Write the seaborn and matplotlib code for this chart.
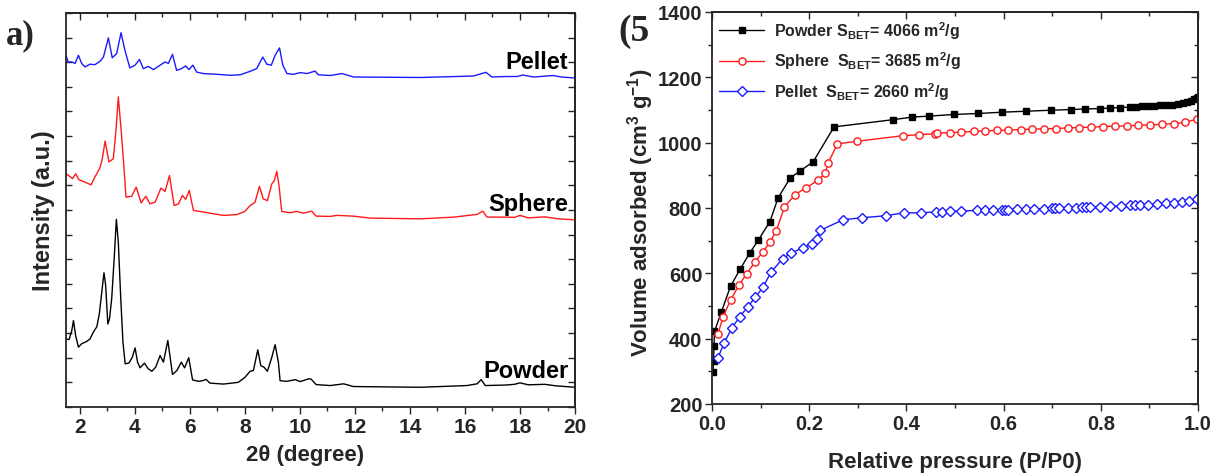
import numpy as np
import pandas as pd
import matplotlib
matplotlib.use('Agg')
import matplotlib.pyplot as plt
from matplotlib.ticker import MultipleLocator, NullFormatter
import seaborn as sns

sns.set_style('ticks')
FONT = ['Liberation Sans Narrow', 'Liberation Sans', 'DejaVu Sans']
plt.rcParams['font.family'] = FONT
plt.rcParams['font.weight'] = 'bold'
plt.rcParams['mathtext.default'] = 'regular'

# ---- XRD patterns (2theta, intensity a.u.) ----
pellet_pts = [(1.50, 14.28), (1.58, 14.01), (1.71, 14.01), (1.83, 13.95), (1.95, 14.28), (2.07, 13.95),
              (2.19, 13.81), (2.37, 13.92), (2.55, 13.90), (2.74, 14.04), (2.86, 14.21), (3.04, 14.99),
              (3.18, 14.18), (3.34, 14.35), (3.50, 15.20), (3.64, 14.49), (3.82, 13.77), (4.01, 13.88),
              (4.17, 14.11), (4.31, 13.74), (4.49, 13.83), (4.68, 13.70), (4.92, 13.88), (5.10, 14.01),
              (5.22, 13.95), (5.37, 14.32), (5.52, 13.67), (5.70, 13.74), (5.85, 13.85), (5.97, 13.70),
              (6.11, 13.88), (6.25, 13.60), (6.49, 13.54), (6.98, 13.51), (7.46, 13.47), (7.83, 13.49),
              (8.19, 13.63), (8.43, 13.74), (8.65, 14.21), (8.80, 13.92), (8.96, 13.88), (9.10, 14.28),
              (9.26, 14.58), (9.38, 13.88), (9.53, 13.54), (9.77, 13.51), (10.01, 13.58), (10.26, 13.54),
              (10.55, 13.64), (10.67, 13.49), (11.10, 13.46), (11.53, 13.54), (11.95, 13.40), (14.38, 13.38),
              (16.31, 13.44), (16.76, 13.59), (16.98, 13.40), (17.46, 13.42), (17.9, 13.42), (18.1, 13.48),
              (18.5, 13.40), (19.2, 13.46), (19.5, 13.40), (20.0, 13.36)]

sphere_pts = [(1.50, 9.47), (1.645, 9.36), (1.73, 9.27), (1.85, 9.47), (1.97, 9.23), (2.19, 9.13),
              (2.41, 9.02), (2.55, 9.34), (2.73, 9.70), (2.82, 10.08), (2.92, 10.80), (3.06, 9.95),
              (3.22, 10.08), (3.32, 11.30), (3.40, 12.59), (3.50, 11.30), (3.60, 9.81), (3.68, 8.52),
              (3.89, 8.56), (4.05, 8.93), (4.23, 8.29), (4.40, 8.56), (4.55, 8.25), (4.74, 8.32),
              (4.95, 8.89), (5.10, 8.75), (5.26, 9.40), (5.43, 8.18), (5.59, 8.25), (5.73, 8.59),
              (5.85, 8.43), (5.98, 8.79), (6.13, 7.98), (6.37, 7.94), (6.73, 7.87), (7.22, 7.78),
              (7.70, 7.81), (8.00, 7.94), (8.19, 8.18), (8.37, 8.31), (8.53, 8.96), (8.67, 8.45),
              (8.82, 8.38), (8.98, 9.06), (9.07, 9.19), (9.16, 9.57), (9.24, 9.00), (9.34, 7.94),
              (9.64, 7.89), (9.89, 7.94), (10.13, 7.87), (10.43, 7.95), (10.59, 7.75), (11.10, 7.74),
              (11.35, 7.78), (11.95, 7.75), (12.56, 7.67), (14.38, 7.64), (15.59, 7.71), (16.44, 7.82),
              (16.65, 7.95), (16.80, 7.71), (17.46, 7.71), (17.8, 7.70), (18.0, 7.78), (18.3, 7.68),
              (18.9, 7.72), (19.4, 7.64), (20.0, 7.60)]

powder_pts = [(1.50, 2.76), (1.61, 2.74), (1.71, 3.10), (1.77, 3.51), (1.85, 2.90), (1.95, 2.43),
              (2.07, 2.57), (2.25, 2.66), (2.37, 2.76), (2.49, 3.03), (2.62, 3.26), (2.71, 3.78),
              (2.80, 4.66), (2.88, 5.45), (2.94, 4.94), (3.02, 3.37), (3.08, 3.58), (3.16, 4.39),
              (3.25, 6.02), (3.33, 7.62), (3.40, 6.70), (3.49, 4.39), (3.57, 2.63), (3.65, 1.75),
              (3.79, 1.79), (3.91, 2.02), (4.01, 2.40), (4.10, 1.82), (4.19, 1.59), (4.35, 1.78),
              (4.49, 1.55), (4.62, 1.45), (4.76, 1.62), (4.92, 2.09), (5.04, 1.82), (5.20, 2.70),
              (5.37, 1.32), (5.53, 1.48), (5.69, 1.82), (5.81, 1.59), (5.96, 2.00), (6.10, 1.10),
              (6.32, 1.04), (6.47, 1.07), (6.59, 1.12), (6.73, 0.97), (7.22, 0.93), (7.76, 1.00),
              (8.00, 1.20), (8.19, 1.45), (8.31, 1.48), (8.47, 2.32), (8.58, 1.68), (8.70, 1.61),
              (8.82, 1.45), (8.98, 2.02), (9.10, 2.53), (9.22, 1.81), (9.28, 1.07), (9.52, 1.04),
              (9.83, 1.11), (10.01, 1.03), (10.31, 1.14), (10.40, 1.14), (10.59, 0.91), (11.10, 0.87),
              (11.59, 0.94), (11.95, 0.83), (14.38, 0.80), (16.07, 0.87), (16.44, 0.94), (16.59, 1.11),
              (16.74, 0.87), (17.46, 0.89), (17.8, 0.92), (18.0, 0.98), (18.3, 0.90), (18.9, 0.92),
              (19.3, 0.86), (20.0, 0.80)]

xrd_names = ['Pellet', 'Sphere', 'Powder']
xrd_colors = ['#1a1aff', '#ff1a1a', 'black']

# ---- N2 isotherms (P/P0, volume adsorbed) ----
powder_p = [0.002, 0.003, 0.004, 0.005, 0.019, 0.038, 0.058, 0.078, 0.095, 0.119, 0.136, 0.161, 0.180,
            0.208, 0.251, 0.372, 0.412, 0.447, 0.497, 0.548, 0.597, 0.647, 0.697, 0.738, 0.768, 0.798,
            0.819, 0.839, 0.861, 0.873, 0.885, 0.897, 0.909, 0.922, 0.934, 0.946, 0.958, 0.970, 0.978,
            0.986, 0.992, 0.997, 1.0]
powder_v = [299, 332, 376, 422, 481, 560, 613, 663, 701, 758, 831, 892, 912,
            941, 1048, 1070, 1078, 1081, 1086, 1089, 1093, 1096, 1099, 1101, 1103, 1104,
            1106, 1107, 1109, 1110, 1111, 1112, 1113, 1114, 1115, 1116, 1118, 1120, 1123,
            1128, 1133, 1137, 1140]

sphere_p = [0.012, 0.023, 0.038, 0.056, 0.071, 0.088, 0.104, 0.119, 0.132, 0.149, 0.171, 0.193, 0.218,
            0.233, 0.239, 0.258, 0.299, 0.392, 0.426, 0.458, 0.463, 0.489, 0.513, 0.538, 0.562, 0.586,
            0.610, 0.635, 0.659, 0.683, 0.707, 0.732, 0.756, 0.780, 0.804, 0.829, 0.853, 0.877, 0.901,
            0.926, 0.950, 0.974, 0.998]
sphere_v = [414, 467, 518, 565, 598, 634, 664, 695, 729, 803, 841, 861, 885,
            906, 938, 996, 1004, 1021, 1024, 1027, 1029, 1030, 1032, 1034, 1036, 1037,
            1038, 1040, 1041, 1042, 1043, 1045, 1046, 1047, 1049, 1050, 1051, 1053, 1054,
            1056, 1058, 1062, 1072]

pellet_p = [0.012, 0.025, 0.041, 0.057, 0.074, 0.089, 0.105, 0.121, 0.145, 0.163, 0.187, 0.206, 0.215,
            0.222, 0.270, 0.309, 0.357, 0.394, 0.430, 0.461, 0.473, 0.489, 0.513, 0.546, 0.562, 0.578,
            0.596, 0.602, 0.610, 0.627, 0.647, 0.663, 0.683, 0.699, 0.706, 0.714, 0.732, 0.748, 0.762,
            0.770, 0.778, 0.798, 0.819, 0.841, 0.861, 0.871, 0.881, 0.897, 0.916, 0.934, 0.950, 0.966,
            0.982, 0.998]
pellet_v = [341, 387, 433, 467, 498, 527, 557, 603, 644, 662, 678, 691, 705,
            731, 764, 770, 776, 785, 785, 788, 788, 790, 790, 793, 793, 794,
            795, 795, 795, 796, 797, 797, 798, 799, 799, 800, 801, 801, 802,
            802, 803, 804, 805, 806, 808, 808, 809, 810, 812, 814, 816, 819,
            822, 827]

iso_labels = ['Powder S$_{BET}$= 4066 m$^2$/g',
              'Sphere  S$_{BET}$= 3685 m$^2$/g',
              'Pellet  S$_{BET}$= 2660 m$^2$/g']

fig = plt.figure(figsize=(12.18, 4.77), dpi=100)
ax1 = fig.add_axes([0.0542, 0.1447, 0.4179, 0.826])
ax2 = fig.add_axes([0.5846, 0.151, 0.399, 0.822])


def mirror_ticks(ax, xmaj, xmin, ymaj, ymin):
    """Origin style: bottom/left ticks as given, top/right ticks inward."""
    top = ax.secondary_xaxis('top')
    right = ax.secondary_yaxis('right')
    top.xaxis.set_major_locator(MultipleLocator(xmaj))
    top.xaxis.set_minor_locator(MultipleLocator(xmin))
    right.yaxis.set_major_locator(MultipleLocator(ymaj))
    right.yaxis.set_minor_locator(MultipleLocator(ymin))
    top.tick_params(which='both', direction='in', labeltop=False, width=1.0)
    right.tick_params(which='both', direction='in', labelright=False, width=1.0)
    top.tick_params(which='major', length=5)
    top.tick_params(which='minor', length=3)
    right.tick_params(which='major', length=5)
    right.tick_params(which='minor', length=3)
    top.spines['top'].set_linewidth(1.3)
    right.spines['right'].set_linewidth(1.3)
    return top, right


# ---------------- a) XRD ----------------
for pts, name, col in zip([pellet_pts, sphere_pts, powder_pts], xrd_names, xrd_colors):
    arr = np.array(pts)
    sns.lineplot(x=arr[:, 0], y=arr[:, 1], ax=ax1, color=col, lw=1.0,
                 sort=False, estimator=None)
    ax1.text(19.75, arr[-1, 1] + 0.2, name, ha='right', va='bottom',
             fontsize=17, fontweight='bold', color='black')

ax1.set_xlim(1.5, 20)
ax1.set_ylim(0, 16)
ax1.xaxis.set_major_locator(MultipleLocator(2))
ax1.xaxis.set_minor_locator(MultipleLocator(1))
ax1.yaxis.set_major_locator(MultipleLocator(1))
ax1.yaxis.set_major_formatter(NullFormatter())
ax1.tick_params(axis='x', which='major', direction='out', length=5, width=1.0, labelsize=15, pad=2)
ax1.tick_params(axis='x', which='minor', direction='out', length=3, width=1.0)
ax1.tick_params(axis='y', which='major', direction='in', length=4, width=1.0)
for s in ax1.spines.values():
    s.set_linewidth(1.3)
mirror_ticks(ax1, 2, 1, 1, 1)
ax1.set_xlabel('2θ (degree)', fontsize=16, fontweight='bold')
ax1.set_ylabel('Intensity (a.u.)', fontsize=17, fontweight='bold')
ax1.xaxis.set_label_coords(0.47, -0.095)
ax1.yaxis.set_label_coords(-0.022, 0.5)
fig.text(0.005, 0.925, 'a)', fontsize=25, fontweight='bold', family='Liberation Serif',
         ha='left', va='center')

# ---------------- b) isotherms ----------------
iso_data = [(powder_p, powder_v, 'black', 's', 'black', 5.0),
            (sphere_p, sphere_v, '#ff1a1a', 'o', 'white', 5.2),
            (pellet_p, pellet_v, '#1a1aff', 'D', 'white', 4.8)]
for (p, v, col, mk, mfc, ms), lab in zip(iso_data, iso_labels):
    sns.lineplot(x=p, y=v, ax=ax2, color=col, lw=1.0, marker=mk, markersize=ms,
                 markerfacecolor=mfc, markeredgecolor=col, markeredgewidth=1.0,
                 sort=False, estimator=None, label=lab)

ax2.set_xlim(0, 1.0)
ax2.set_ylim(200, 1400)
ax2.xaxis.set_major_locator(MultipleLocator(0.2))
ax2.xaxis.set_minor_locator(MultipleLocator(0.1))
ax2.yaxis.set_major_locator(MultipleLocator(200))
ax2.yaxis.set_minor_locator(MultipleLocator(100))
ax2.xaxis.set_major_formatter(plt.FuncFormatter(lambda v, _: f'{v:.1f}'))
ax2.tick_params(which='major', direction='out', length=5, width=1.0, labelsize=14.5, pad=2)
ax2.tick_params(which='minor', direction='out', length=3, width=1.0)
for s in ax2.spines.values():
    s.set_linewidth(1.3)
mirror_ticks(ax2, 0.2, 0.1, 200, 100)
ax2.set_xlabel('Relative pressure (P/P0)', fontsize=16, fontweight='bold')
ax2.set_ylabel('Volume adsorbed (cm$^3$ g$^{-1}$)', fontsize=16, fontweight='bold')
ax2.xaxis.set_label_coords(0.5, -0.12)
ax2.yaxis.set_label_coords(-0.115, 0.49)
leg = ax2.legend(loc='upper left', frameon=False, fontsize=11.5, handlelength=2.8,
                 labelspacing=0.55, borderaxespad=0.25, borderpad=0.2, handletextpad=0.6)
fig.text(0.508, 0.935, '(5', fontsize=27, fontweight='bold', family='Liberation Serif',
         ha='left', va='center')

fig.savefig('out.png', dpi=100)
